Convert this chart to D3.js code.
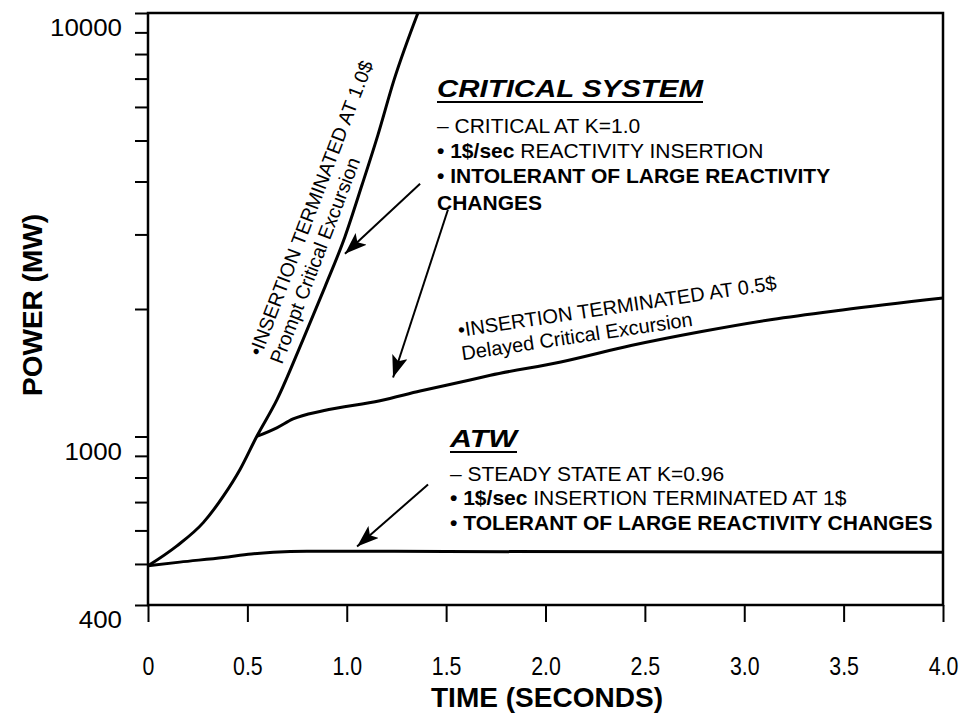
<!DOCTYPE html>
<html>
<head>
<meta charset="utf-8">
<script src="https://cdn.jsdelivr.net/npm/d3@7"></script>
<style>
  body { margin: 0; background: #fff; }
  svg { display: block; font-family: "Liberation Sans", Arial, sans-serif; }
</style>
</head>
<body>
<svg id="chart" width="969" height="714"></svg>
<script>
// time (s) / power (MW)
const promptTime  = [0, 0.144, 0.278, 0.379, 0.463, 0.547, 0.649, 0.78, 0.891, 0.991, 1.077, 1.157, 1.238, 1.358];
const promptPower = [495, 551, 626, 723, 836, 1000, 1222, 1694, 2259, 2963, 3929, 5156, 6950, 10000];

const delayedTime  = [0.547, 0.648, 0.73, 0.881, 1.167, 1.369, 1.62, 1.723, 2.077, 2.43, 2.786, 3.14, 3.494, 4.0];
const delayedPower = [1000, 1048, 1100, 1150, 1215, 1280, 1360, 1395, 1500, 1640, 1770, 1890, 1990, 2123];

const atwTime  = [0, 0.16, 0.38, 0.52, 0.63, 0.8, 1.5, 2.5, 4.0];
const atwPower = [495, 505, 518, 528, 533, 536, 535, 534, 533];

const xTicks = [0, 0.5, 1, 1.5, 2, 2.5, 3, 3.5, 4];
const xTickLabels = ["0", "0.5", "1.0", "1.5", "2.0", "2.5", "3.0", "3.5", "4.0"];
const yTicks = [400, 500, 600, 700, 800, 900, 1000, 2000, 3000, 4000, 5000, 6000, 7000, 8000, 9000, 10000];
const yLabelValues = [400, 1000, 10000];
const yLabelText = ["400", "1000", "10000"];

// annotation arrows (tail -> head), in time / power
const arrowTailTime  = [1.369, 1.509, 1.409];
const arrowTailPower = [3950, 3430, 770];
const arrowHeadTime  = [0.991, 1.233, 1.052];
const arrowHeadPower = [2700, 1378, 550];

const svg = d3.select("#chart");
const margin = { top: 13, right: 26, bottom: 109, left: 148 };
const width = +svg.attr("width") - margin.left - margin.right;
const height = +svg.attr("height") - margin.top - margin.bottom;

const g = svg.append("g").attr("transform", `translate(${margin.left},${margin.top})`);

const x = d3.scaleLinear().domain([0, 4]).range([0, width]);
const y = d3.scaleLog().domain([400, 10000]).range([height, 0]);

// frame
g.append("rect")
  .attr("width", width)
  .attr("height", height)
  .attr("fill", "none")
  .attr("stroke", "#000")
  .attr("stroke-width", 2.5);

// x axis (narrow lettering in the original, squeezed here)
const xAxis = g.append("g")
  .attr("transform", `translate(0,${height})`)
  .call(d3.axisBottom(x)
    .tickValues(xTicks)
    .tickSize(17)
    .tickSizeOuter(0)
    .tickPadding(35)
    .tickFormat(d => xTickLabels[xTicks.indexOf(d)]));
xAxis.select(".domain").remove();
xAxis.selectAll("line").attr("stroke", "#000").attr("stroke-width", 2);
xAxis.selectAll("text")
  .attr("fill", "#000")
  .attr("font-family", "'Liberation Sans', Arial, sans-serif")
  .attr("font-size", 26)
  .attr("textLength", function () { return this.getComputedTextLength() * 0.82; })
  .attr("lengthAdjust", "spacingAndGlyphs");

// y axis (labels sit a little below their ticks in the original)
const yAxis = g.append("g")
  .call(d3.axisLeft(y)
    .tickValues(yTicks)
    .tickSize(13)
    .tickSizeOuter(0)
    .tickPadding(13)
    .tickFormat(d => {
      const k = yLabelValues.indexOf(d);
      return k < 0 ? "" : yLabelText[k];
    }));
yAxis.select(".domain").remove();
yAxis.selectAll("line").attr("stroke", "#000").attr("stroke-width", 2);
yAxis.selectAll("text")
  .attr("fill", "#000")
  .attr("font-family", "'Liberation Sans', Arial, sans-serif")
  .attr("font-size", 24)
  .attr("transform", "translate(0,15)")
  .filter(function () { return this.textContent.length > 0; })
  .attr("textLength", function () { return this.textContent.length * 14.4; })
  .attr("lengthAdjust", "spacingAndGlyphs");

// axis titles
svg.append("text")
  .attr("x", 547)
  .attr("y", 707)
  .attr("text-anchor", "middle")
  .attr("font-weight", "bold")
  .attr("font-size", 27)
  .attr("textLength", 232)
  .attr("lengthAdjust", "spacingAndGlyphs")
  .text("TIME (SECONDS)");

svg.append("text")
  .attr("transform", "translate(42,305) rotate(-90)")
  .attr("text-anchor", "middle")
  .attr("font-weight", "bold")
  .attr("font-size", 28)
  .text("POWER (MW)");

// curves
const line = d3.line()
  .x(d => x(d[0]))
  .y(d => y(d[1]))
  .curve(d3.curveMonotoneX);

const curves = [
  d3.zip(promptTime, promptPower),
  d3.zip(delayedTime, delayedPower),
  d3.zip(atwTime, atwPower)
];

g.selectAll(".curve")
  .data(curves)
  .join("path")
  .attr("class", "curve")
  .attr("fill", "none")
  .attr("stroke", "#000")
  .attr("stroke-width", 3)
  .attr("stroke-linejoin", "round")
  .attr("d", line);

// arrows
svg.append("defs").append("marker")
  .attr("id", "head")
  .attr("viewBox", "0 -8 22 16")
  .attr("refX", 22)
  .attr("refY", 0)
  .attr("markerWidth", 22)
  .attr("markerHeight", 16)
  .attr("markerUnits", "userSpaceOnUse")
  .attr("orient", "auto")
  .append("path")
  .attr("d", "M0,-8L22,0L0,8L5,0Z")
  .attr("fill", "#000");

g.selectAll(".arrow")
  .data(d3.range(arrowTailTime.length))
  .join("line")
  .attr("class", "arrow")
  .attr("x1", i => x(arrowTailTime[i]))
  .attr("y1", i => y(arrowTailPower[i]))
  .attr("x2", i => x(arrowHeadTime[i]))
  .attr("y2", i => y(arrowHeadPower[i]))
  .attr("stroke", "#000")
  .attr("stroke-width", 2)
  .attr("marker-end", "url(#head)");

// text blocks
function heading(xp, yp, label, len) {
  svg.append("text")
    .attr("x", xp)
    .attr("y", yp)
    .attr("font-weight", "bold")
    .attr("font-style", "italic")
    .attr("font-size", 24)
    .attr("textLength", len)
    .attr("lengthAdjust", "spacingAndGlyphs")
    .text(label);
  svg.append("line")
    .attr("x1", xp).attr("x2", xp + len)
    .attr("y1", yp + 5).attr("y2", yp + 5)
    .attr("stroke", "#000")
    .attr("stroke-width", 2);
}

// parts: [text, bold?]
function bodyLine(xp, yp, parts) {
  const t = svg.append("text")
    .attr("x", xp)
    .attr("y", yp)
    .attr("font-size", 21)
    .attr("xml:space", "preserve");
  parts.forEach(p => {
    t.append("tspan")
      .attr("font-weight", p[1] ? "bold" : "normal")
      .text(p[0]);
  });
}

heading(437, 97, "CRITICAL SYSTEM", 266);
bodyLine(437, 133, [["– CRITICAL AT K=1.0", false]]);
bodyLine(437, 158, [["• 1$/sec", true], [" REACTIVITY INSERTION", false]]);
bodyLine(437, 183, [["• INTOLERANT OF LARGE REACTIVITY", true]]);
bodyLine(437, 210, [["CHANGES", true]]);

heading(450, 447, "ATW", 67);
bodyLine(450, 481, [["– STEADY STATE AT K=0.96", false]]);
bodyLine(450, 505, [["• 1$/sec", true], [" INSERTION TERMINATED AT 1$", false]]);
bodyLine(450, 530, [["• TOLERANT OF LARGE REACTIVITY CHANGES", true]]);

// labels that run along the curves
function slantLabel(xp, yp, angle, size, line1, line2, gap) {
  const t = svg.append("text")
    .attr("transform", `translate(${xp},${yp}) rotate(${angle})`)
    .attr("font-size", size);
  t.append("tspan").attr("x", 0).text(line1);
  t.append("tspan").attr("x", 0).attr("dy", gap).text(line2);
}

slantLabel(261, 357, -69, 19.5, "•INSERTION TERMINATED AT 1.0$", "Prompt Critical Excursion", 22.5);
slantLabel(459, 337, -8.5, 20, "•INSERTION TERMINATED AT 0.5$", "Delayed Critical Excursion", 23.5);
</script>
</body>
</html>
